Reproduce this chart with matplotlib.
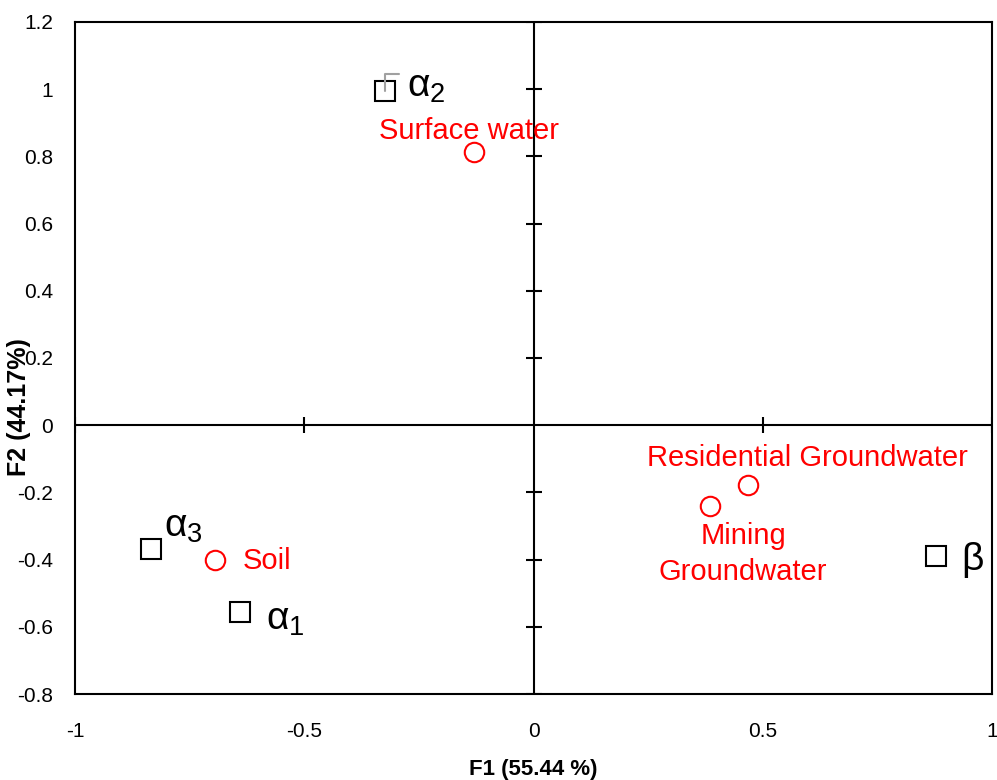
import numpy as np
import matplotlib
matplotlib.use('Agg')
import matplotlib.pyplot as plt

plt.rcParams['font.family'] = ['Liberation Sans', 'DejaVu Sans']
plt.rcParams['mathtext.fontset'] = 'custom'
plt.rcParams['mathtext.rm'] = 'Liberation Sans'
plt.rcParams['mathtext.it'] = 'Liberation Sans'

# Sources (open squares)
src_names = [r'$\alpha_1$', r'$\alpha_2$', r'$\alpha_3$', r'$\beta$']
src_f1 = [-0.640, -0.324, -0.834, 0.878]
src_f2 = [-0.557, 0.994, -0.369, -0.390]

# Samples (open red circles)
smp_names = ['Soil', 'Surface water', 'Residential Groundwater', 'Mining\nGroundwater']
smp_f1 = [-0.695, -0.130, 0.468, 0.385]
smp_f2 = [-0.402, 0.8125, -0.179, -0.241]

xticks = [-1, -0.5, 0, 0.5, 1]
yticks = [-0.8, -0.6, -0.4, -0.2, 0, 0.2, 0.4, 0.6, 0.8, 1, 1.2]

fig = plt.figure(figsize=(9.97, 7.8), dpi=100)
ax = fig.add_axes([75 / 997, 1 - 694 / 780, 917 / 997, 672 / 780])

ax.set_xlim(-1, 1)
ax.set_ylim(-0.8, 1.2)
ax.set_xticks(xticks)
ax.set_yticks(yticks)
ax.set_xticklabels(['-1', '-0.5', '0', '0.5', '1'])
ax.set_yticklabels(['-0.8', '-0.6', '-0.4', '-0.2', '0', '0.2', '0.4', '0.6', '0.8', '1', '1.2'])
ax.tick_params(axis='x', length=0, pad=20, labelsize=15)
ax.tick_params(axis='y', length=0, pad=16, labelsize=15)
for s in ax.spines.values():
    s.set_linewidth(1.5)

# axes through the origin, with cross ticks
ax.axhline(0, color='black', lw=1.5, zorder=1)
ax.axvline(0, color='black', lw=1.5, zorder=1)
xt = [t for t in xticks if t != 0]
yt = [t for t in yticks if t != 0]
ax.plot(xt, np.zeros(len(xt)), ls='none', marker='|', ms=11, mew=1.5, color='black', zorder=1)
ax.plot(np.zeros(len(yt)), yt, ls='none', marker='_', ms=11, mew=1.5, color='black', zorder=1)

ax.plot(src_f1, src_f2, ls='none', marker='s', ms=14, mfc='none', mec='black', mew=1.5, zorder=3)
ax.plot(smp_f1, smp_f2, ls='none', marker='o', ms=14, mfc='none', mec='red', mew=1.5, zorder=3)

# label offsets in pixels
src_off = [(26, -8), (22, 4), (13, 22), (25, -4)]
for name, x, y, off in zip(src_names, src_f1, src_f2, src_off):
    ax.annotate(name, (x, y), xytext=off, textcoords='offset pixels',
                ha='left', va='center', fontsize=28, color='black')

# leader line for alpha 2
ax.annotate('', (src_f1[1], src_f2[1]), xytext=(14, 17), textcoords='offset pixels',
            arrowprops=dict(arrowstyle='-', color='#a0a0a0', lw=1.5, shrinkA=0, shrinkB=0,
                            connectionstyle='angle,angleA=0,angleB=90,rad=0'))

smp_off = [(28, -1), (-5, 21), (59, 27), (33, -48)]
smp_ha = ['left', 'center', 'center', 'center']
for name, x, y, off, ha in zip(smp_names, smp_f1, smp_f2, smp_off, smp_ha):
    ax.annotate(name, (x, y), xytext=off, textcoords='offset pixels',
                ha=ha, va='center', fontsize=21, color='red', linespacing=1.35)

ax.set_xlabel('F1 (55.44 %)', fontsize=16, fontweight='bold')
ax.set_ylabel('F2 (44.17%)', fontsize=18, fontweight='bold')
ax.xaxis.set_label_coords(0.5, (694 - 759) / 672)
ax.yaxis.set_label_coords((31 - 75) / 917, (694 - 407) / 672)

fig.savefig('out.png', dpi=100)
